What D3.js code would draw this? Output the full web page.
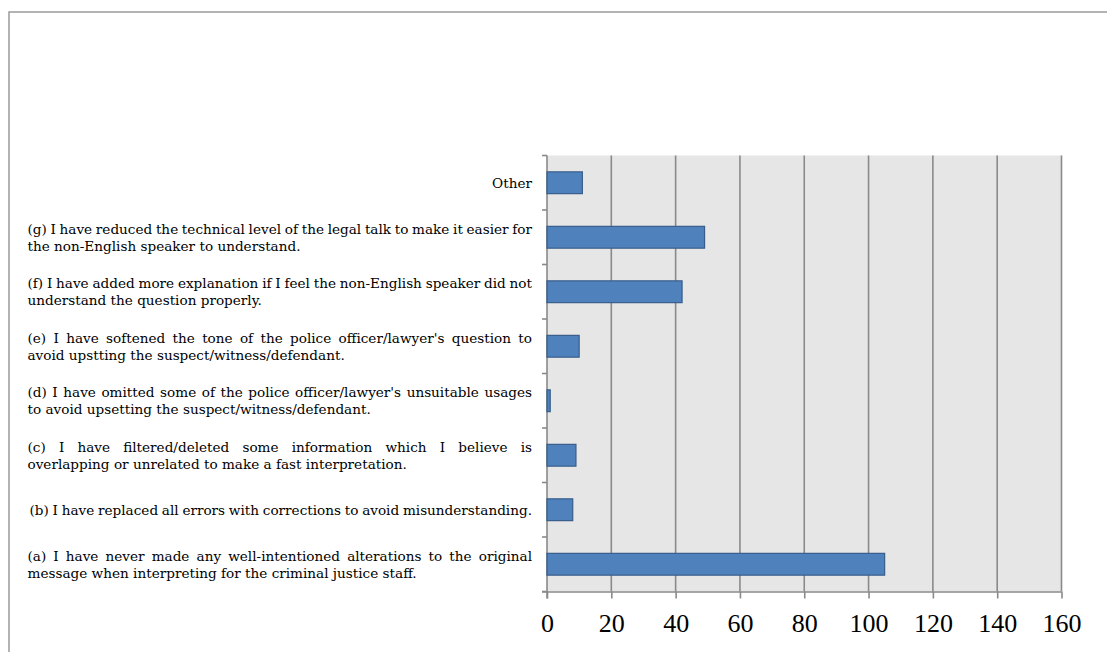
<!DOCTYPE html>
<html>
<head>
<meta charset="utf-8">
<script src="https://cdn.jsdelivr.net/npm/d3@7"></script>
<style>
  html, body { margin: 0; padding: 0; background: #fff; }
  svg { display: block; }
</style>
</head>
<body>
<svg id="chart" width="1107" height="652"></svg>
<script>
// Category labels, top to bottom; each entry lists the label's lines.
const categories = [
  ["Other"],
  ["(g) I have reduced the technical level of the legal talk to make it easier for",
   "the non-English speaker to understand."],
  ["(f) I have added more explanation if I feel the non-English speaker did not",
   "understand the question properly."],
  ["(e) I have softened the tone of the police officer/lawyer's question to",
   "avoid upstting the suspect/witness/defendant."],
  ["(d) I have omitted some of the police officer/lawyer's unsuitable usages",
   "to avoid upsetting the suspect/witness/defendant."],
  ["(c) I have filtered/deleted some information which I believe is",
   "overlapping or unrelated to make a fast interpretation."],
  ["(b) I have replaced all errors with corrections to avoid misunderstanding."],
  ["(a) I have never made any well-intentioned alterations to the original",
   "message when interpreting for the criminal justice staff."]
];
const values = [11, 49, 42, 10, 1, 9, 8, 105];
const xTicks = [0, 20, 40, 60, 80, 100, 120, 140, 160];

const svg = d3.select("#chart");

// Outer frame (right and bottom edges run off the page)
svg.append("rect")
  .attr("x", 9).attr("y", 12)
  .attr("width", 1120).attr("height", 660)
  .attr("fill", "none").attr("stroke", "#9a9a9a").attr("stroke-width", 1.5);

const plot = { left: 547, right: 1061.5, top: 155.5, bottom: 591.5 };

const x = d3.scaleLinear().domain([0, 160]).range([plot.left, plot.right]);
const y = d3.scaleBand()
  .domain(d3.range(categories.length))
  .range([plot.top, plot.bottom])
  .paddingInner(0.6).paddingOuter(0.3);

// Plot background
svg.append("rect")
  .attr("x", plot.left).attr("y", plot.top)
  .attr("width", plot.right - plot.left).attr("height", plot.bottom - plot.top)
  .attr("fill", "#e6e6e6");

// Vertical gridlines
svg.append("g").selectAll("line")
  .data(xTicks.filter(d => d > 0))
  .join("line")
  .attr("x1", d => x(d)).attr("x2", d => x(d))
  .attr("y1", plot.top).attr("y2", plot.bottom)
  .attr("stroke", "#8a8a8a").attr("stroke-width", 1.6);

// Bottom axis
const xAxis = svg.append("g")
  .attr("transform", `translate(0,${plot.bottom})`)
  .call(d3.axisBottom(x).tickValues(xTicks).tickSize(7).tickPadding(15).tickSizeOuter(0));
xAxis.select(".domain").attr("stroke", "#8a8a8a").attr("stroke-width", 1.6)
  .attr("d", `M${plot.left - 5},0.5H${plot.right}`);
xAxis.selectAll(".tick line").attr("stroke", "#8a8a8a").attr("stroke-width", 1.6);
xAxis.selectAll(".tick text")
  .attr("fill", "#000")
  .style("font-family", "'Liberation Serif', 'DejaVu Serif', serif")
  .style("font-size", "26px");

// Left axis line with tick marks at band boundaries
const step = (plot.bottom - plot.top) / categories.length;
const leftAxis = svg.append("g");
leftAxis.append("line")
  .attr("x1", plot.left).attr("x2", plot.left)
  .attr("y1", plot.top).attr("y2", plot.bottom + 7)
  .attr("stroke", "#8a8a8a").attr("stroke-width", 1.6);
leftAxis.selectAll("line.tk")
  .data(d3.range(categories.length + 1))
  .join("line").attr("class", "tk")
  .attr("x1", plot.left - 5).attr("x2", plot.left)
  .attr("y1", i => plot.top + i * step).attr("y2", i => plot.top + i * step)
  .attr("stroke", "#8a8a8a").attr("stroke-width", 1.6);

// Bars
svg.append("g").selectAll("rect")
  .data(values)
  .join("rect")
  .attr("x", x(0))
  .attr("y", (d, i) => y(i))
  .attr("width", d => x(d) - x(0))
  .attr("height", y.bandwidth())
  .attr("fill", "#4f81bd")
  .attr("stroke", "#385d8a")
  .attr("stroke-width", 1.2);

// Category labels: first line of a two-line label is justified across the text column
const textLeft = 27.5, textRight = 532, lineGap = 17;
const labelFont = "'DejaVu Serif', 'Liberation Serif', serif";
const labels = svg.append("g")
  .style("font-family", labelFont)
  .style("font-size", "13.6px")
  .attr("fill", "#000");

categories.forEach((lines, i) => {
  const cy = y(i) + y.bandwidth() / 2;
  const n = lines.length;
  lines.forEach((line, j) => {
    const ly = cy + (j - (n - 1) / 2) * lineGap;
    const t = labels.append("text")
      .attr("y", ly).attr("dy", "0.35em")
      .text(line);
    if (n === 1 && line === "Other") {
      t.attr("x", textRight).attr("text-anchor", "end");
    } else if (j < n - 1 || n === 1) {
      const left = n === 1 ? textLeft + 2 : textLeft;
      t.attr("x", left);
      const natural = t.node().getComputedTextLength();
      const gaps = line.split(" ").length - 1;
      if (gaps > 0) t.style("word-spacing", ((textRight - left - natural) / gaps) + "px");
    } else {
      t.attr("x", textLeft);
    }
  });
});
</script>
</body>
</html>
